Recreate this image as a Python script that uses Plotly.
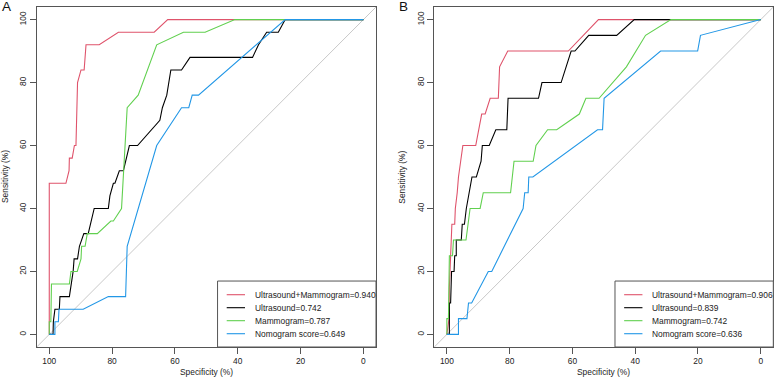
import plotly.graph_objects as go

# ---------------- data ----------------
series_names = ["Ultrasound+Mammogram", "Ultrasound", "Mammogram", "Nomogram score"]
series_colors = ["#DF536B", "#000000", "#61D04F", "#2297E6"]
auc_a = ["0.940", "0.742", "0.787", "0.649"]
auc_b = ["0.906", "0.839", "0.742", "0.636"]
tick_vals = [0, 20, 40, 60, 80, 100]
tick_text = ["0", "20", "40", "60", "80", "100"]

# Panel A (specificity %, sensitivity %)
a_combo_spec = [100, 100, 94.7, 93.7, 93.6, 92.7, 92.0, 91.5, 91.0, 89.9, 88.9, 88.3, 84.1, 78.0, 66.6, 62.3, 0]
a_combo_sens = [0, 48, 48, 52, 56, 56, 60, 60, 80, 84, 84, 92, 92, 96, 96, 100, 100]

a_us_spec = [100, 98.8, 98.7, 98.2, 96.8, 96.6, 93.6, 92.9, 92.4, 92.1, 91.0, 90.4, 89.0, 87.6, 85.7, 81.2, 80.7,
             79.6, 79.1, 77.7, 76.4, 74.5, 71.9, 64.8, 64.0, 62.6, 61.3, 57.9, 55.2, 35.3, 33.4, 30.8, 27.1, 24.9, 0]
a_us_sens = [0, 0, 4, 8, 8, 12, 12, 16, 20, 24, 24, 28, 32, 32, 40, 40, 44,
             48, 48, 52, 52, 60, 60, 68, 72, 76, 84, 84, 88, 88, 92, 96, 96, 100, 100]

a_mg_spec = [100, 100, 99.5, 99.3, 93.6, 93.1, 91.1, 89.9, 89.7, 88.6, 87.9, 84.7, 80.4, 79.6, 77.0, 75.2, 71.7,
             65.8, 57.3, 50.4, 40.9, 0]
a_mg_sens = [0, 4, 4, 16, 16, 20, 20, 24, 28, 28, 32, 32, 36, 36, 40, 72, 76,
             92, 96, 96, 100, 100]

a_nom_spec = [100, 98.2, 98.2, 97.1, 96.9, 89.2, 81.2, 75.7, 75.2, 65.8, 57.9, 55.6, 54.5, 52.5, 24.9, 0]
a_nom_sens = [0, 0, 4, 4, 8, 8, 12, 12, 28, 60, 72, 72, 76, 76, 100, 100]

# Panel B
b_combo_spec = [100, 99.3, 99.2, 98.8, 98.6, 98.4, 97.5, 97.3, 96.7, 96.3, 95.6, 94.9, 90.8, 88.9, 87.8, 86.2,
                83.6, 83.2, 80.6, 61.3, 51.7, 0]
b_combo_sens = [0, 5, 15, 25, 30, 35, 35, 40, 45, 50, 55, 60, 60, 70, 70, 75,
                75, 85, 90, 90, 100, 100]

b_us_spec = [100, 99.2, 99.2, 98.8, 98.5, 97.7, 97.5, 97.0, 97.0, 95.4, 95.1, 94.4, 93.8, 92.0, 90.6, 89.1, 88.7,
             86.5, 84.4, 80.9, 80.5, 70.8, 69.7, 63.6, 60.4, 59.2, 54.8, 45.9, 40.3, 0]
b_us_sens = [0, 0, 10, 10, 20, 20, 25, 25, 30, 30, 35, 35, 40, 50, 50, 55, 60,
             60, 65, 65, 75, 75, 80, 80, 90, 90, 95, 95, 100, 100]

b_mg_spec = [100, 100, 99.5, 99.3, 99.2, 98.2, 97.9, 93.9, 92.6, 89.4, 88.4, 79.7, 78.6, 72.5, 71.6, 67.9, 65.0,
             57.8, 55.7, 51.5, 42.8, 36.7, 28.6, 0]
b_mg_sens = [0, 5, 5, 15, 25, 25, 30, 30, 40, 40, 45, 45, 55, 55, 60, 65, 65,
             70, 75, 75, 85, 95, 100, 100]

b_nom_spec = [100, 96.3, 96.3, 93.6, 93.1, 92.1, 86.8, 85.7, 75.7, 75.2, 74.1, 73.9, 72.6, 52.0, 50.4, 49.9,
              31.9, 20.1, 19.2, 0]
b_nom_sens = [0, 0, 5, 5, 10, 10, 20, 20, 40, 45, 45, 50, 50, 65, 65, 75,
              90, 90, 95, 100]

panel_a = [(a_combo_spec, a_combo_sens), (a_us_spec, a_us_sens), (a_mg_spec, a_mg_sens), (a_nom_spec, a_nom_sens)]
panel_b = [(b_combo_spec, b_combo_sens), (b_us_spec, b_us_sens), (b_mg_spec, b_mg_sens), (b_nom_spec, b_nom_sens)]

X_RANGE = [104, -4]
Y_RANGE = [-4, 104]
FONT = "Liberation Sans, Arial, sans-serif"
TXT = "#222222"
FRAME = "#555555"
LW = 1.1

fig = go.Figure()

for panel, xr, yr in [(panel_a, "x", "y"), (panel_b, "x2", "y2")]:
    for (sx, sy), name, col in zip(panel, series_names, series_colors):
        fig.add_trace(go.Scatter(x=sx, y=sy, mode="lines", name=name,
                                 line=dict(color=col, width=LW), xaxis=xr, yaxis=yr,
                                 showlegend=False, hoverinfo="skip"))

axis_common = dict(showgrid=False, zeroline=False, showline=True, mirror=True, linecolor=FRAME, linewidth=1,
                   ticks="outside", ticklen=6, tickcolor=FRAME, tickwidth=1, automargin=False,
                   tickvals=tick_vals, ticktext=tick_text,
                   tickfont=dict(family=FONT, size=8.4, color=TXT), fixedrange=True)

fig.update_layout(
    template="none",
    width=775, height=378, margin=dict(l=0, r=0, t=0, b=0, autoexpand=False),
    paper_bgcolor="white", plot_bgcolor="white", showlegend=False,
    xaxis=dict(domain=[36.7 / 775, 376 / 775], range=X_RANGE, anchor="y", **axis_common),
    yaxis=dict(domain=[1 - 347 / 378, 1 - 7 / 378], range=Y_RANGE, anchor="x", tickangle=-90, **axis_common),
    xaxis2=dict(domain=[434.3 / 775, 773.3 / 775], range=X_RANGE, anchor="y2", **axis_common),
    yaxis2=dict(domain=[1 - 347 / 378, 1 - 7 / 378], range=Y_RANGE, anchor="x2", tickangle=-90, **axis_common),
)

annotations = []
shapes = []
leg_rows = [0.1538, 0.1156, 0.0774, 0.0391]
for xa, ya, aucs, label, lab_x, ytitle_x in [("x", "y", auc_a, "A", 6 / 775, 5 / 775),
                                             ("x2", "y2", auc_b, "B", 403 / 775, 401.7 / 775)]:
    # diagonal reference line across the plotting region
    shapes.append(dict(type="line", xref=xa, yref=ya, x0=X_RANGE[0], y0=100 - X_RANGE[0],
                       x1=X_RANGE[1], y1=100 - X_RANGE[1], line=dict(color="#C8C8C8", width=1), layer="below"))
    # legend box
    shapes.append(dict(type="rect", xref=xa + " domain", yref=ya + " domain", x0=0.533, x1=1.0, y0=0.0, y1=0.194,
                       line=dict(color=FRAME, width=1), fillcolor="white", layer="above"))
    for row, name, col, auc in zip(leg_rows, series_names, series_colors, aucs):
        shapes.append(dict(type="line", xref=xa + " domain", yref=ya + " domain", x0=0.560, x1=0.614,
                           y0=row, y1=row, line=dict(color=col, width=LW), layer="above"))
        annotations.append(dict(xref=xa + " domain", yref=ya + " domain", x=0.637, y=row, xanchor="left",
                                yanchor="middle", showarrow=False, text=f"{name}={auc}",
                                font=dict(family=FONT, size=8.4, color=TXT)))
    annotations.append(dict(xref=xa + " domain", yref="paper", x=0.5, y=(378 - 372) / 378, xanchor="center",
                            yanchor="middle", showarrow=False, text="Specificity (%)",
                            font=dict(family=FONT, size=8.4, color=TXT)))
    annotations.append(dict(xref="paper", yref=ya + " domain", x=ytitle_x, y=0.5, xanchor="center",
                            yanchor="middle", showarrow=False, text="Sensitivity (%)", textangle=-90,
                            font=dict(family=FONT, size=8.4, color=TXT)))
    annotations.append(dict(xref="paper", yref="paper", x=lab_x, y=1 - 7 / 378, xanchor="center",
                            yanchor="middle", showarrow=False, text=label,
                            font=dict(family=FONT, size=13.5, color="#111111")))

fig.update_layout(annotations=annotations, shapes=shapes)
fig.write_html("out.html", config={"displayModeBar": False},
               post_script="document.body.style.margin='0';document.body.style.padding='0';")
